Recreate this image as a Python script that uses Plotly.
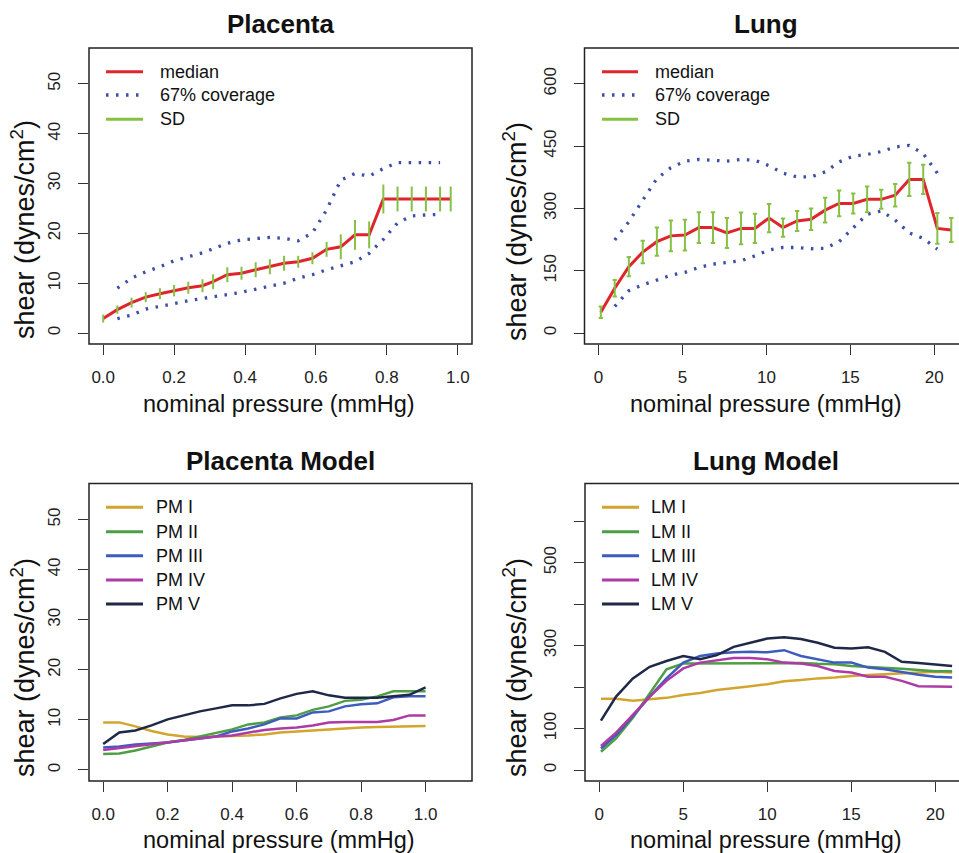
import plotly.graph_objects as go

# ---- data ----
pl_x = [0.00, 0.04, 0.08, 0.12, 0.16, 0.20, 0.24, 0.28, 0.31, 0.35, 0.39, 0.43, 0.47,
        0.51, 0.55, 0.59, 0.63, 0.67, 0.71, 0.75, 0.79, 0.83, 0.87, 0.91, 0.95, 0.98]
pl_median = [2.9, 4.7, 6.1, 7.2, 7.9, 8.5, 9.1, 9.5, 10.3, 11.7, 12.0, 12.7, 13.3,
             14.0, 14.3, 15.0, 16.8, 17.3, 19.7, 19.7, 26.9, 26.9, 26.9, 26.9, 26.9, 26.9]
pl_sd = [0.8, 0.85, 1.0, 1.0, 1.1, 1.15, 1.2, 1.3, 1.5, 1.5, 1.3, 1.5, 1.5,
         1.5, 1.2, 1.2, 1.5, 2.5, 3.0, 2.7, 2.9, 2.5, 2.5, 2.5, 2.5, 2.5]
pl_cov_x = pl_x[1:25]
pl_upper = [9.0, 11.0, 12.3, 13.3, 14.5, 15.3, 16.1, 16.9, 18.0, 18.7, 18.9, 19.2,
            19.0, 18.5, 20.1, 24.7, 30.7, 32.0, 31.5, 33.0, 34.2, 34.2, 34.2, 34.2]
pl_lower = [2.9, 3.6, 4.8, 5.3, 5.9, 6.5, 6.9, 7.3, 7.7, 8.2, 8.8, 9.3,
            10.0, 11.0, 11.7, 12.7, 13.5, 14.3, 16.0, 18.8, 22.1, 23.5, 23.7, 23.8]

lu_x = [0.14, 0.97, 1.81, 2.64, 3.48, 4.31, 5.15, 5.98, 6.82, 7.65, 8.49, 9.32, 10.16,
        10.99, 11.83, 12.66, 13.50, 14.33, 15.17, 16.00, 16.84, 17.67, 18.51, 19.34, 20.18, 21.01]
lu_median = [50, 108, 160, 195, 220, 234, 236, 254, 254, 241, 252, 252, 277,
             254, 270, 274, 296, 312, 312, 322, 322, 332, 370, 370, 252, 248]
lu_sd = [14, 20, 23, 27, 34, 37, 37, 37, 37, 36, 38, 35, 34,
         22, 24, 26, 30, 31, 24, 31, 23, 27, 40, 35, 37, 29]
lu_cov_x = lu_x[1:25]
lu_upper = [224, 268, 320, 372, 398, 414, 418, 415, 414, 418, 416, 403,
            385, 376, 376, 388, 412, 426, 430, 437, 448, 452, 432, 385]
lu_lower = [64, 102, 116, 128, 139, 146, 158, 166, 170, 174, 186, 200,
            206, 206, 203, 204, 220, 252, 286, 294, 272, 241, 228, 202]

pm_x = [0.00, 0.05, 0.10, 0.15, 0.20, 0.25, 0.30, 0.35, 0.40, 0.45, 0.50,
        0.55, 0.60, 0.65, 0.70, 0.75, 0.80, 0.85, 0.90, 0.95, 1.00]
pm_names = ["PM I", "PM II", "PM III", "PM IV", "PM V"]
pm_vals = [
    [9.5, 9.5, 8.7, 7.8, 7.1, 6.7, 6.6, 6.7, 6.7, 6.9, 7.1, 7.5, 7.7, 7.9, 8.2, 8.3, 8.5, 8.6, 8.7, 8.7, 8.8],
    [3.2, 3.3, 3.9, 4.7, 5.5, 6.0, 6.7, 7.5, 8.1, 9.1, 9.5, 10.5, 10.9, 12.0, 12.7, 13.8, 14.0, 14.7, 15.7, 15.7, 15.7],
    [4.5, 4.7, 5.1, 5.3, 5.5, 5.9, 6.3, 6.7, 7.7, 8.3, 9.1, 10.3, 10.3, 11.5, 11.7, 12.7, 13.1, 13.3, 14.5, 14.7, 14.7],
    [4.0, 4.4, 4.8, 5.2, 5.6, 5.9, 6.3, 6.7, 6.9, 7.5, 8.0, 8.3, 8.5, 8.9, 9.5, 9.6, 9.6, 9.6, 10.0, 10.9, 10.9],
    [5.2, 7.5, 7.9, 8.9, 10.1, 10.9, 11.7, 12.3, 12.9, 12.9, 13.2, 14.3, 15.2, 15.7, 14.9, 14.4, 14.4, 14.4, 14.7, 15.0, 16.5],
]

lm_x = [0.1, 1, 2, 3, 4, 5, 6, 7, 8, 9, 10, 11, 12, 13, 14, 15, 16, 17, 18, 19, 20, 21]
lm_names = ["LM I", "LM II", "LM III", "LM IV", "LM V"]
lm_vals = [
    [172, 172, 167, 170, 174, 181, 186, 193, 197, 202, 207, 214, 217, 221, 223, 227, 229, 231, 233, 235, 237, 235],
    [44, 76, 126, 185, 243, 257, 257, 258, 258, 258, 258, 258, 258, 256, 255, 251, 249, 247, 244, 241, 238, 238],
    [52, 84, 130, 177, 221, 259, 275, 281, 284, 285, 284, 289, 275, 267, 259, 259, 247, 243, 236, 230, 225, 223],
    [58, 90, 133, 177, 215, 245, 259, 265, 270, 270, 267, 259, 257, 251, 239, 235, 225, 225, 215, 202, 201, 201],
    [119, 177, 221, 249, 263, 275, 267, 277, 297, 307, 317, 320, 316, 307, 295, 293, 296, 285, 261, 258, 255, 251],
]

top_legend = ["median", "67% coverage", "SD"]
model_colors = ["#D2A52F", "#4E9E45", "#3E5CBD", "#AD3BA5", "#1F2947"]
RED, BLUE, GREEN = "#E0252A", "#3D4EA6", "#86C144"

W, H = 959, 853
FONT = "Liberation Sans, Arial, sans-serif"


def fx(p):
    return p / W


def fy(p):
    return 1 - p / H


def sd_segments(x, m, sd, cap):
    xs, ys = [], []
    for xi, mi, si in zip(x, m, sd):
        xs += [xi, xi, None]
        ys += [mi - si, mi + si, None]
        if cap:
            xs += [xi - cap, xi + cap, None, xi - cap, xi + cap, None]
            ys += [mi - si, mi - si, None, mi + si, mi + si, None]
    return xs, ys


fig = go.Figure()
dots = "2.5px,7.5px"
dotw = 3.3

# Placenta
fig.add_trace(go.Scatter(x=pl_cov_x, y=pl_upper, mode="lines", line=dict(color=BLUE, width=dotw, dash=dots), xaxis="x", yaxis="y"))
fig.add_trace(go.Scatter(x=pl_cov_x, y=pl_lower, mode="lines", line=dict(color=BLUE, width=dotw, dash=dots), xaxis="x", yaxis="y"))
fig.add_trace(go.Scatter(x=pl_x, y=pl_median, mode="lines", line=dict(color=RED, width=3), xaxis="x", yaxis="y"))
sx, sy = sd_segments(pl_x, pl_median, pl_sd, 0)
fig.add_trace(go.Scatter(x=sx, y=sy, mode="lines", line=dict(color=GREEN, width=2), xaxis="x", yaxis="y"))

# Lung
fig.add_trace(go.Scatter(x=lu_cov_x, y=lu_upper, mode="lines", line=dict(color=BLUE, width=dotw, dash=dots), xaxis="x2", yaxis="y2"))
fig.add_trace(go.Scatter(x=lu_cov_x, y=lu_lower, mode="lines", line=dict(color=BLUE, width=dotw, dash=dots), xaxis="x2", yaxis="y2"))
fig.add_trace(go.Scatter(x=lu_x, y=lu_median, mode="lines", line=dict(color=RED, width=3), xaxis="x2", yaxis="y2"))
sx, sy = sd_segments(lu_x, lu_median, lu_sd, 0.13)
fig.add_trace(go.Scatter(x=sx, y=sy, mode="lines", line=dict(color=GREEN, width=2), xaxis="x2", yaxis="y2"))

# Models
for vals, c in zip(pm_vals, model_colors):
    fig.add_trace(go.Scatter(x=pm_x, y=vals, mode="lines", line=dict(color=c, width=2.5), xaxis="x3", yaxis="y3"))
for vals, c in zip(lm_vals, model_colors):
    fig.add_trace(go.Scatter(x=lm_x, y=vals, mode="lines", line=dict(color=c, width=2.5), xaxis="x4", yaxis="y4"))

panels = {
    "TL": (89, 472, 48, 344),
    "TR": (584.5, 965, 48, 344),
    "BL": (89, 472, 483.5, 781),
    "BR": (585, 965, 483.5, 781),
}

tick_font = dict(family=FONT, size=17, color="#222")
axis_common = dict(showgrid=False, zeroline=False, showline=False, ticks="outside",
                   ticklen=10, tickwidth=1.3, tickcolor="#333", tickfont=tick_font)
xfrac = [0, 0.2, 0.4, 0.6, 0.8, 1.0]
xfrac_txt = ["0.0", "0.2", "0.4", "0.6", "0.8", "1.0"]
xmm = [0, 5, 10, 15, 20]

layout_axes = {}
for key, ax, ay, xr, yr, xt, xtt, yt, ytt in [
    ("TL", "xaxis", "yaxis", [-0.04, 1.04], [-2.2, 57.2], xfrac, xfrac_txt, [0, 10, 20, 30, 40, 50], None),
    ("TR", "xaxis2", "yaxis2", [-0.83, 21.47], [-26.4, 686.4], xmm, None, [0, 150, 300, 450, 600], None),
    ("BL", "xaxis3", "yaxis3", [-0.044, 1.144], [-2.2, 57.2], xfrac, xfrac_txt, [0, 10, 20, 30, 40, 50], None),
    ("BR", "xaxis4", "yaxis4", [-0.85, 21.41], [-26.5, 691], xmm, None, [0, 100, 300, 500], None),
]:
    x0, x1, y0, y1 = panels[key]
    yname = ay.replace("yaxis", "y")
    xname = ax.replace("xaxis", "x")
    layout_axes[ax] = dict(axis_common, domain=[fx(x0), min(fx(x1), 1)], range=xr, anchor=yname,
                           tickvals=xt, ticktext=xtt if xtt else [str(v) for v in xt],
                           ticklabelstandoff=8)
    layout_axes[ay] = dict(axis_common, domain=[fy(y1), fy(y0)], range=yr, anchor=xname,
                           tickvals=yt, ticktext=ytt if ytt else [str(v) for v in yt],
                           tickangle=-90, ticklabelstandoff=11)
# unlabelled ticks of the lung model axis
layout_axes["yaxis4"]["minor"] = dict(tickvals=[200, 400, 600], ticks="outside", ticklen=10,
                                      tickwidth=1.3, tickcolor="#333", showgrid=False)

shapes, annotations = [], []
titles = {"TL": "Placenta", "TR": "Lung", "BL": "Placenta Model", "BR": "Lung Model"}
title_y = {"TL": 24, "TR": 24, "BL": 461, "BR": 461}
ylab_x = {"TL": 23, "TR": 515, "BL": 23, "BR": 515}
ylab_y = {"TL": 230, "TR": 232, "BL": 668, "BR": 668}
xlab_y = {"TL": 404, "TR": 404, "BL": 840, "BR": 840}
xlab_cx = {"TL": 279, "TR": 766, "BL": 279, "BR": 766}
for key, (x0, x1, y0, y1) in panels.items():
    shapes.append(dict(type="rect", xref="paper", yref="paper", x0=fx(x0), x1=fx(x1), y0=fy(y1), y1=fy(y0),
                       line=dict(color="#222", width=1.5)))
    annotations.append(dict(text="<b>%s</b>" % titles[key], x=fx((x0 + x1) / 2 if key in ("TL", "BL") else 766),
                            y=fy(title_y[key]), xref="paper", yref="paper", showarrow=False,
                            xanchor="center", yanchor="middle", font=dict(family=FONT, size=26, color="#111")))
    annotations.append(dict(text="nominal pressure (mmHg)", x=fx(xlab_cx[key]), y=fy(xlab_y[key]),
                            xref="paper", yref="paper", showarrow=False, xanchor="center", yanchor="middle",
                            font=dict(family=FONT, size=23.5, color="#111")))
    annotations.append(dict(text="shear (dynes/cm<sup>2</sup>)", x=fx(ylab_x[key]), y=fy(ylab_y[key]),
                            xref="paper", yref="paper", showarrow=False, textangle=-90,
                            xanchor="center", yanchor="middle", font=dict(family=FONT, size=27, color="#111")))


def legend(x_line0, x_line1, x_text, rows, names, styles):
    for yy, nm, st in zip(rows, names, styles):
        shapes.append(dict(type="line", xref="paper", yref="paper", x0=fx(x_line0), x1=fx(x_line1),
                           y0=fy(yy), y1=fy(yy), line=st))
        annotations.append(dict(text=nm, x=fx(x_text), y=fy(yy), xref="paper", yref="paper", showarrow=False,
                                xanchor="left", yanchor="middle", font=dict(family=FONT, size=18, color="#111")))


top_styles = [dict(color=RED, width=3), dict(color=BLUE, width=dotw, dash=dots), dict(color=GREEN, width=3)]
legend(106, 143, 158, [71.7, 95, 119.3], top_legend, top_styles)
legend(602, 638, 653, [71.7, 95, 119.3], top_legend, top_styles)
model_styles = [dict(color=c, width=3) for c in model_colors]
legend(106, 143, 154, [507.3, 531.7, 555.7, 580, 604], pm_names, model_styles)
legend(602, 639, 649, [507.3, 531.7, 555.7, 580, 604], lm_names, model_styles)

fig.update_layout(width=W, height=H, margin=dict(l=0, r=0, t=0, b=0), showlegend=False,
                  plot_bgcolor="white", paper_bgcolor="white", shapes=shapes, annotations=annotations,
                  **layout_axes)
# page body margin would push the 959x853 figure off by 8px
fig.write_html("out.html", config={"displayModeBar": False},
               post_script="document.body.style.margin='0';")
